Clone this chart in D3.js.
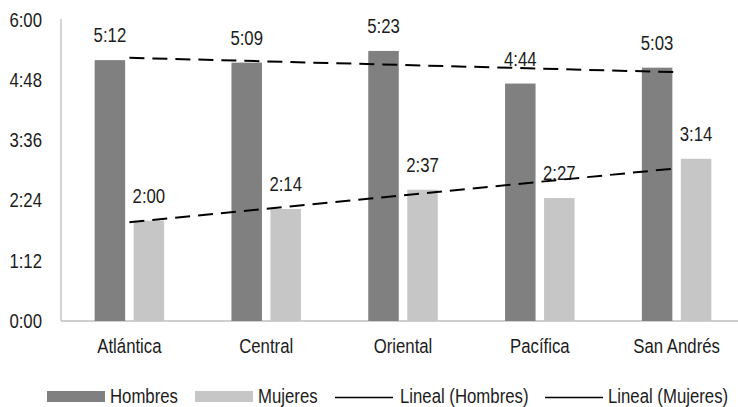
<!DOCTYPE html>
<html><head><meta charset="utf-8">
<script src="https://cdn.jsdelivr.net/npm/d3@7"></script>
<style>body{margin:0;background:#fff}svg{display:block}</style>
</head><body>
<svg id="c" width="738" height="407"></svg>
<script>
const categories = ["Atlántica", "Central", "Oriental", "Pacífica", "San Andrés"];
const hombres = [312, 309, 323, 284, 303];   // minutes
const mujeres = [120, 134, 157, 147, 194];   // minutes
const yTicks = [0, 72, 144, 216, 288, 360];
const legendLabels = ["Hombres", "Mujeres", "Lineal (Hombres)", "Lineal (Mujeres)"];

const fmt = m => Math.floor(m / 60) + ":" + String(m % 60).padStart(2, "0");
const colH = "#808080", colM = "#c6c6c6", txt = "#1c1c1c";
const svg = d3.select("#c");
const font = "'Liberation Sans', Arial, sans-serif";
const fs = 19.5, squeeze = 0.86;

const x = d3.scaleBand().domain(categories).range([61, 745]).padding(0);
const y = d3.scaleLinear().domain([0, 360]).range([321, 20]);
const bw = x.bandwidth();
const barW = bw * 0.223, gap = bw * 0.062;
const cx = c => x(c) + bw / 2;

// axes
const yAxis = d3.axisLeft(y).tickValues(yTicks).tickFormat(fmt).tickSize(0).tickPadding(19);
const ga = svg.append("g").attr("transform", "translate(61,0)").call(yAxis);
ga.select(".domain").attr("stroke", "#bfbfbf").attr("stroke-width", 1.3).attr("d", "M0,19V321");
ga.selectAll("text").attr("font-family", font).attr("font-size", fs).attr("fill", txt);

const xAxis = d3.axisBottom(x).tickSize(0).tickPadding(18);
const gx = svg.append("g").attr("transform", "translate(0,321)").call(xAxis);
gx.select(".domain").attr("stroke", "#bfbfbf").attr("stroke-width", 1.3).attr("d", "M61,0H738");
gx.selectAll("text").attr("font-family", font).attr("font-size", fs).attr("fill", txt);

// bars
const series = [
  {vals: hombres, color: colH, off: -gap / 2 - barW},
  {vals: mujeres, color: colM, off: gap / 2}
];
series.forEach(s => {
  svg.append("g").selectAll("rect").data(categories).join("rect")
    .attr("x", (c) => cx(c) + s.off)
    .attr("width", barW)
    .attr("y", (c, i) => y(s.vals[i]))
    .attr("height", (c, i) => y(0) - y(s.vals[i]))
    .attr("fill", s.color);
  svg.append("g").selectAll("text").data(categories).join("text")
    .attr("x", c => cx(c) + s.off + barW / 2)
    .attr("y", (c, i) => y(s.vals[i]) - 18)
    .attr("text-anchor", "middle")
    .attr("font-family", font).attr("font-size", fs).attr("fill", txt)
    .text((c, i) => fmt(s.vals[i]));
});

// linear trend lines
function trend(vals) {
  const n = vals.length, xs = vals.map((v, i) => i + 1);
  const mx = d3.mean(xs), my = d3.mean(vals);
  const b = d3.sum(xs, (xi, i) => (xi - mx) * (vals[i] - my)) / d3.sum(xs, xi => (xi - mx) ** 2);
  const a = my - b * mx;
  return [a + b * 1, a + b * n];
}
[hombres, mujeres].forEach(vals => {
  const [v0, v1] = trend(vals);
  svg.append("line")
    .attr("x1", cx(categories[0])).attr("y1", y(v0))
    .attr("x2", cx(categories[categories.length - 1])).attr("y2", y(v1))
    .attr("stroke", "#000").attr("stroke-width", 2)
    .attr("stroke-dasharray", "15,8");
});

// legend
const lg = svg.append("g");
const legendItems = [
  {type: "rect", color: colH, x0: 47, x1: 105, tx: 110},
  {type: "rect", color: colM, x0: 195, x1: 253, tx: 258},
  {type: "line", x0: 335, x1: 393, tx: 400},
  {type: "line", x0: 545, x1: 603, tx: 608}
];
legendItems.forEach((d, i) => {
  if (d.type === "rect") {
    lg.append("rect").attr("x", d.x0).attr("y", 391).attr("width", d.x1 - d.x0).attr("height", 11).attr("fill", d.color);
  } else {
    lg.append("line").attr("x1", d.x0).attr("x2", d.x1).attr("y1", 397.5).attr("y2", 397.5)
      .attr("stroke", "#000").attr("stroke-width", 1.6);
  }
  lg.append("text").attr("x", d.tx).attr("y", 403.5)
    .attr("font-family", font).attr("font-size", fs).attr("fill", txt)
    .text(legendLabels[i]);
});

// condensed text like the reference: scale horizontally around each text's anchor x
svg.selectAll("text").each(function () {
  const xv = +this.getAttribute("x") || 0;
  d3.select(this).attr("transform", `translate(${xv},0) scale(${squeeze},1) translate(${-xv},0)`);
});
</script>
</body></html>
